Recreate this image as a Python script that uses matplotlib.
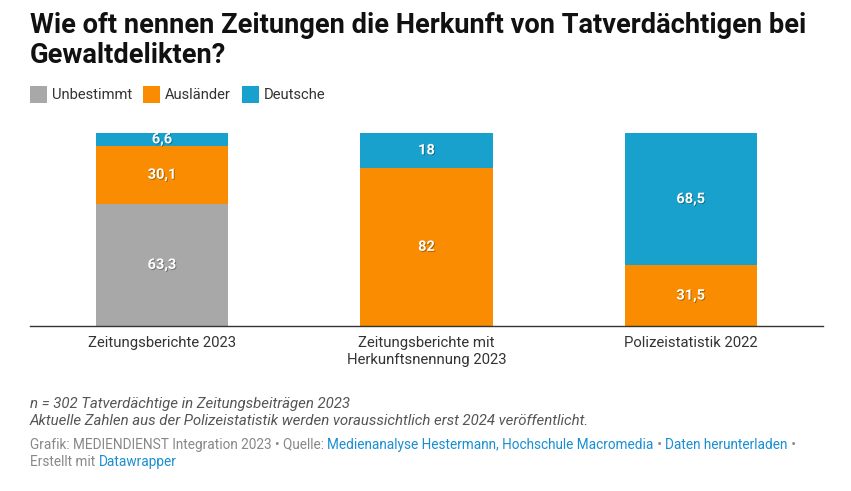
import numpy as np
from matplotlib import pyplot as plt
from matplotlib import patheffects as pe

plt.rcParams['font.family'] = ['Roboto', 'DejaVu Sans']

# Daten
kategorien = ['Zeitungsberichte 2023', 'Zeitungsberichte mit\nHerkunftsnennung 2023', 'Polizeistatistik 2022']
unbestimmt = [63.3, 0, 0]
auslaender = [30.1, 82, 31.5]
deutsche = [6.6, 18, 68.5]
serien = ['Unbestimmt', 'Ausländer', 'Deutsche']
farben = ['#a8a8a8', '#f98c00', '#18a1cd']

fig = plt.figure(figsize=(8.51, 4.91), dpi=100)
ax = fig.add_axes([30/851, 1-326/491, 793/851, 193/491])

x = np.arange(len(kategorien))
schatten = [pe.SimplePatchShadow(offset=(0.6, -0.6), shadow_rgbFace='black', alpha=0.35), pe.Normal()]
unten = np.zeros(len(kategorien))
for werte, farbe in zip([unbestimmt, auslaender, deutsche], farben):
    werte = np.array(werte, dtype=float)
    ax.bar(x, werte, 0.5, bottom=unten, color=farbe, linewidth=0)
    for xi, b, v in zip(x, unten, werte):
        if v > 0:
            txt = ('%g' % v).replace('.', ',')
            ax.text(xi, b+v/2, txt, ha='center', va='center', color='white',
                    fontsize=10.5, fontweight='bold', path_effects=schatten)
    unten += werte

ax.set_xlim(-0.5, 2.5)
ax.set_ylim(0, 100)
ax.set_yticks([])
ax.set_xticks(x)
ax.set_xticklabels(kategorien, fontsize=10.7, color='#333333', linespacing=1.3)
ax.tick_params(axis='x', length=0, pad=7)
for s in ['top', 'right', 'left']:
    ax.spines[s].set_visible(False)
ax.spines['bottom'].set_color('#333333')
ax.spines['bottom'].set_linewidth(1)

# Titel
fig.text(30/851, 1-33/491, 'Wie oft nennen Zeitungen die Herkunft von Tatverdächtigen bei',
         fontsize=19.6, fontweight='bold', va='baseline', ha='left', color='#111111')
fig.text(30/851, 1-63/491, 'Gewaltdelikten?',
         fontsize=19.6, fontweight='bold', va='baseline', ha='left', color='#111111')

# Legende
lx = 30
for name, farbe in zip(serien, farben):
    fig.patches.append(plt.Rectangle((lx/851, 1-103/491), 17/851, 17/491, transform=fig.transFigure,
                                     color=farbe, linewidth=0))
    t = fig.text((lx+22)/851, 1-95/491, name, fontsize=10.6, color='#333333', va='center', ha='left')
    fig.canvas.draw()
    bb = t.get_window_extent()
    lx = bb.x1 + 11

# Anmerkungen
fig.text(30/851, 1-404/491, 'n = 302 Tatverdächtige in Zeitungsbeiträgen 2023', fontsize=10.85,
         style='italic', color='#555555', va='center')
fig.text(30/851, 1-421/491, 'Aktuelle Zahlen aus der Polizeistatistik werden voraussichtlich erst 2024 veröffentlicht.',
         fontsize=10.85, style='italic', color='#555555', va='center')

# Fusszeile mit Links
grau, blau = '#888888', '#1a8ed1'
zeilen = [[('Grafik: MEDIENDIENST Integration 2023 • Quelle: ', grau),
           ('Medienanalyse Hestermann, Hochschule Macromedia', blau),
           (' • ', grau), ('Daten herunterladen', blau), (' •', grau)],
          [('Erstellt mit ', grau), ('Datawrapper', blau)]]
renderer = fig.canvas.get_renderer()
for zeile, y in zip(zeilen, [445, 462]):
    px = 30
    for teil, farbe in zeile:
        t = fig.text(px/851, 1-y/491, teil, fontsize=9.85, color=farbe, va='center', ha='left')
        bb = t.get_window_extent(renderer=renderer)
        px = bb.x1

fig.savefig('out.png', dpi=100)
